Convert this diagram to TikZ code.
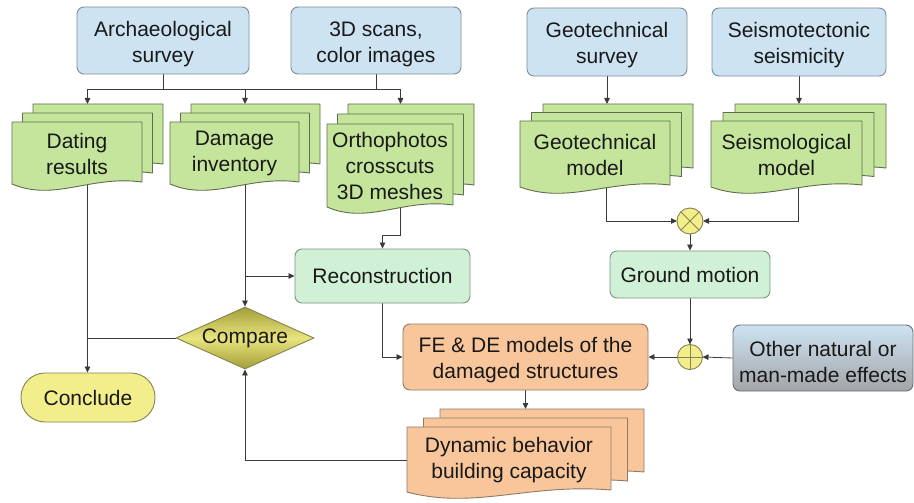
\documentclass[tikz,border=0pt]{standalone}
\usepackage{fontspec}
\setmainfont{Liberation Sans}
\usetikzlibrary{arrows.meta,shapes.geometric,calc}
\pgfdeclarelayer{bg}\pgfsetlayers{bg,main}
\definecolor{blueF}{HTML}{CDE3F2}
\definecolor{blueD}{HTML}{7F8C96}
\definecolor{docF}{HTML}{C4E59B}
\definecolor{docD}{HTML}{5E6E4C}
\definecolor{mintF}{HTML}{D0F1D6}
\definecolor{mintD}{HTML}{7B9680}
\definecolor{orF}{HTML}{F8C69A}
\definecolor{orD}{HTML}{8F7A66}
\definecolor{yelF}{HTML}{F2EE8C}
\definecolor{yelD}{HTML}{85834F}
\definecolor{olv}{HTML}{A49E36}
\definecolor{olvL}{HTML}{E8E47E}
\definecolor{grayB}{HTML}{A3A5A8}
\definecolor{lnC}{HTML}{3A3A3A}
\newcommand\docsheet[5]{%
  \pgfmathsetmacro\dsxl{#1}\pgfmathsetmacro\dsyt{#2}%
  \pgfmathsetmacro\dsxr{\dsxl+#3}\pgfmathsetmacro\dsyb{\dsyt+#4}%
  \pgfmathsetmacro\dsca{\dsxl+0.6*#3}\pgfmathsetmacro\dscb{\dsyb-7}%
  \pgfmathsetmacro\dscc{\dsxl+0.33*#3}\pgfmathsetmacro\dscd{\dsyb+20}%
  \pgfmathsetmacro\dsye{\dsyb+2}%
  \draw[#5] (\dsxl,\dsyt) -- (\dsxr,\dsyt) -- (\dsxr,\dsyb)
    .. controls (\dsca,\dscb) and (\dscc,\dscd) .. (\dsxl,\dsye) -- cycle;
}
\newcommand\docstack[9]{%
  \docsheet{#2+2*#6}{#3-2*#7}{#4}{#5}{#8}%
  \docsheet{#2+#6}{#3-#7}{#4}{#5}{#8}%
  \docsheet{#2}{#3}{#4}{#5}{#8}%
  \node[minimum width=#4, minimum height=#5, inner sep=0] (#1) at ({#2+#6+#4/2},{#3-#7+#5/2}) {};
  \node[txt] (#1-t) at ({#2+#4/2},{#3+#5/2+1.5}) {#9};
  \coordinate (#1-top) at ({#2+#6+#4/2},{#3-2*#7});
}
\newcommand\boxtext[2]{\node[txt] (#1-t) at ([yshift=-3.5pt]#1.center) {#2};}
\begin{document}
\begin{tikzpicture}[x=1pt,y=-1pt,
  txt/.style={font=\fontsize{21}{26}\selectfont, align=center, inner sep=0, text=black!90},
  box/.style={txt, rectangle, rounded corners=7, line width=0.9pt},
  bluebox/.style={box, draw=blueD, fill=blueF},
  mintbox/.style={box, draw=mintD, fill=mintF},
  orbox/.style={box, draw=orD, fill=orF},
  docst/.style={draw=docD, fill=docF, line width=0.9pt, line join=round},
  ordocst/.style={draw=orD, fill=orF, line width=0.9pt, line join=round},
  ln/.style={draw=lnC, line width=0.8pt},
  arr/.style={ln, -{Triangle[length=6pt,width=5.5pt]}},
  sym/.style={circle, draw=yelD, fill=yelF, line width=0.9pt, inner sep=0, outer sep=0}]
\useasboundingbox (0,0) rectangle (914,503);

% top boxes
\node[bluebox, minimum width=172, minimum height=67] (arch) at (163,40.5) {};
\boxtext{arch}{Archaeological\\survey}
\node[bluebox, minimum width=170, minimum height=67] (scans) at (376,40.5) {};
\boxtext{scans}{3D scans,\\color images}
\node[bluebox, minimum width=160, minimum height=68] (geos) at (607,42) {};
\boxtext{geos}{Geotechnical\\survey}
\node[bluebox, minimum width=174, minimum height=68] (seiss) at (799,42) {};
\boxtext{seiss}{Seismotectonic\\seismicity}

% document stacks
\docstack{dating}{12}{122}{130}{60}{10.5}{9}{docst}{Dating\\results}
\docstack{damage}{170}{122}{129}{60}{10.5}{9}{docst}{Damage\\inventory}
\docstack{ortho}{327}{124}{126}{81}{10.5}{10}{docst}{Orthophotos\\crosscuts\\3D meshes}
\docstack{geo}{520}{121}{150}{64}{11.5}{8.5}{docst}{Geotechnical\\model}
\docstack{seis}{711}{121}{151}{64}{12}{8.5}{docst}{Seismological\\model}
\docstack{dyn}{407}{427}{204}{63}{16.5}{9}{ordocst}{Dynamic behavior\\building capacity}

% process boxes
\node[mintbox, minimum width=175, minimum height=54] (recon) at (382.5,276) {Reconstruction};
\node[mintbox, minimum width=160, minimum height=47] (gm) at (690,274.5) {Ground motion};
\node[orbox, minimum width=245, minimum height=66] (fe) at (525.5,357) {};
\boxtext{fe}{FE \& DE models of the\\damaged structures}
\node[box, draw=blueD!80!black, top color=blueF, bottom color=grayB, minimum width=180, minimum height=66] (other) at (823,358) {};
\boxtext{other}{Other natural or\\man-made effects}
\node[txt, rectangle, rounded corners=24, draw=yelD, fill=yelF, line width=0.9pt, minimum width=134, minimum height=49] (conc) at (88,397.5) {Conclude};
\node[txt, diamond, aspect=2.2, draw=yelD, line width=0.9pt, top color=olv, bottom color=olv, middle color=olvL, minimum width=138, minimum height=62] (cmp) at (245,338) {Compare};

% symbols
\node[sym, minimum size=26] (ot) at (690,221) {};
\draw[yelD, line width=0.9pt] (ot.north west) -- (ot.south east) (ot.north east) -- (ot.south west);
\node[sym, minimum size=25] (op) at (690,357) {};
\draw[yelD, line width=0.9pt] (op.north) -- (op.south) (op.west) -- (op.east);

% connectors
\begin{pgfonlayer}{bg}
\coordinate (busy) at (0,89);
\coordinate (oy) at (0,235);
\draw[ln] (arch.south) -- (arch.south |- busy);
\draw[ln] (scans.south) -- (scans.south |- busy);
\draw[ln] (dating-top |- busy) -- (ortho-top |- busy);
\draw[arr] (dating-top |- busy) -- (dating-top);
\draw[arr] (damage-top |- busy) -- (damage-top);
\draw[arr] (ortho-top |- busy) -- (ortho-top);
\draw[arr] (geos.south) -- (geos.south |- geo-top);
\draw[arr] (seiss.south) -- (seiss.south |- seis-top);
\draw[arr] (ortho.center) -- (ortho.center |- oy) -| (recon.north);
\draw[arr] (dating.center) -- (dating.center |- conc.north);
\draw[ln] (cmp.west) -- (cmp.west -| dating.center);
\draw[arr] (damage.center) -- (damage.center |- cmp.north);
\draw[arr] (damage.center |- recon.west) -- (recon.west);
\draw[arr] (recon.south) |- (fe.west);
\draw[arr] (dyn-t.center) -| (cmp.south);
\draw[arr] (fe.south) -- (fe.south |- dyn-top);
\draw[arr] (geo.center) |- (ot.west);
\draw[arr] (seis.center) |- (ot.east);
\draw[arr] (ot.south) -- (ot.south |- gm.north);
\draw[arr] (gm.south) -- (gm.south |- op.north);
\draw[arr] (other.west) -- (op.east);
\draw[arr] (op.west) -- (fe.east);
\end{pgfonlayer}
\end{tikzpicture}
\end{document}
